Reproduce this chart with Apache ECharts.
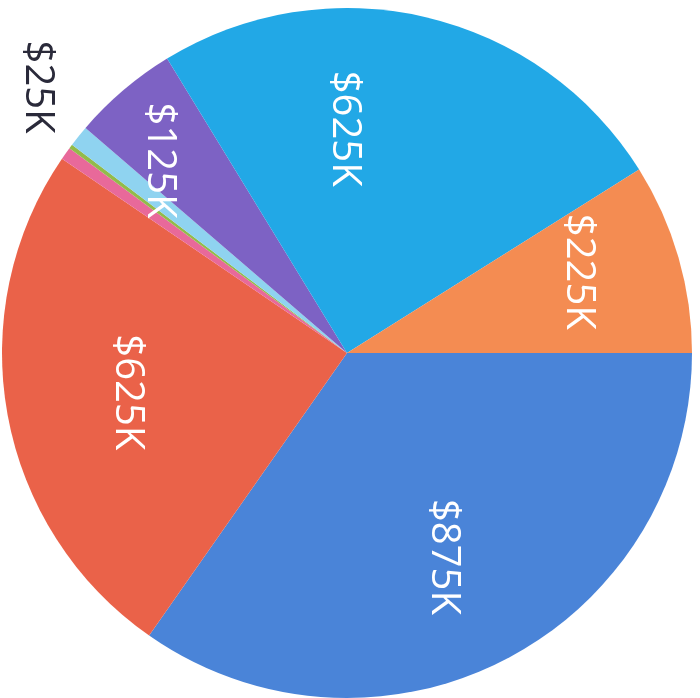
<!DOCTYPE html>
<html>
<head>
<meta charset="utf-8">
<script src="https://cdn.jsdelivr.net/npm/echarts@6/dist/echarts.min.js"></script>
<style>
html,body{margin:0;padding:0;background:#fff;}
#chart{width:700px;height:698px;}
</style>
</head>
<body>
<div id="chart"></div>
<script>
// Slices in clockwise order, starting at 3 o'clock
const categories = ['A', 'B', 'C', 'D', 'E', 'F', 'G', 'H'];
const values = [875, 625, 15, 5, 25, 125, 625, 225];
const colors = ['#4a84d8', '#ea6249', '#e8699a', '#92bb4a', '#8fd3f0', '#7d62c4', '#22a8e6', '#f48c52'];
const insideLabel = [true, true, false, false, false, true, true, true];
const outsideLabel = [false, false, false, false, true, false, false, false];

// label nudges in the rotated text frame (styling, not data)
const labelNudge = {0: [-5, 12], 1: [-3, -12], 4: [-8, -10], 5: [-13, 35], 6: [5, 56], 7: [-16, -5]};

const fmt = p => '$' + p.value + 'K';
const chart = echarts.init(document.getElementById('chart'));
const center = [347, 353];
const common = {
  type: 'pie',
  center: center,
  startAngle: 0,
  clockwise: true,
  avoidLabelOverlap: false,
  animation: false,
  labelLine: { show: false }
};
const labelItem = (c, i, show) => ({
  name: c, value: values[i],
  label: { show: show, offset: labelNudge[i] || [0, 0] }
});
chart.setOption({
  backgroundColor: '#ffffff',
  series: [
    Object.assign({}, common, {
      radius: [0, 345],
      label: { show: false },
      emphasis: { disabled: true },
      data: categories.map((c, i) => ({ name: c, value: values[i], itemStyle: { color: colors[i] } }))
    }),
    Object.assign({}, common, {
      radius: [120, 345],
      silent: true,
      itemStyle: { color: 'transparent' },
      label: {
        position: 'inside',
        rotate: -90,
        formatter: fmt,
        color: '#ffffff',
        fontFamily: 'Open Sans',
        fontSize: 40
      },
      data: categories.map((c, i) => labelItem(c, i, insideLabel[i]))
    }),
    Object.assign({}, common, {
      radius: [345, 470],
      silent: true,
      itemStyle: { color: 'transparent' },
      label: {
        position: 'inside',
        rotate: -90,
        formatter: fmt,
        color: '#2a2a3a',
        fontFamily: 'Open Sans',
        fontSize: 40
      },
      data: categories.map((c, i) => labelItem(c, i, outsideLabel[i]))
    })
  ]
});
</script>
</body>
</html>
